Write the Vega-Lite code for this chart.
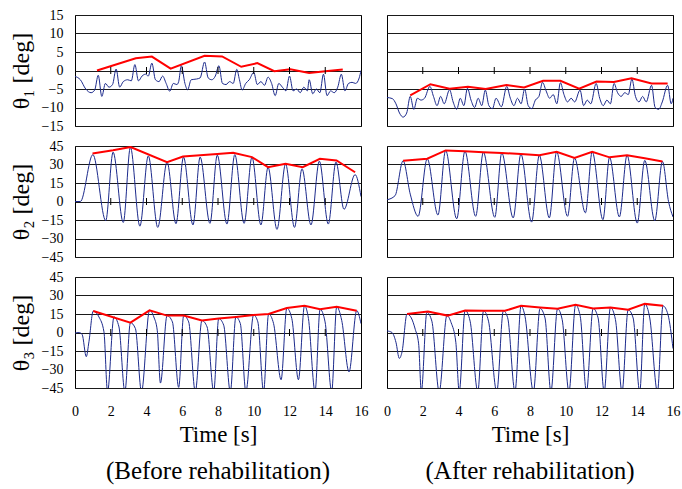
{
  "$schema": "https://vega.github.io/schema/vega-lite/v6.json",
  "padding": {"left": 8, "top": 7, "right": 0, "bottom": 0},
  "background": "white",
  "datasets": {
    "ticks": [{"t": 2}, {"t": 4}, {"t": 6}, {"t": 8}, {"t": 10}, {"t": 12}, {"t": 14}],
    "b1": [
      {"t": 0, "v": -1.6}, {"t": 0.3, "v": -2.5}, {"t": 0.6, "v": -5.0}, {"t": 0.9, "v": -6.0}, {"t": 1.1, "v": -5.3},
      {"t": 1.3, "v": -1.3}, {"t": 1.5, "v": -7.0}, {"t": 1.7, "v": -3.5}, {"t": 1.9, "v": -4.5}, {"t": 2.1, "v": -3.8},
      {"t": 2.3, "v": 0.4}, {"t": 2.5, "v": -4.5}, {"t": 2.7, "v": -3.0}, {"t": 2.95, "v": -2.5}, {"t": 3.15, "v": -2.8},
      {"t": 3.35, "v": 1.6}, {"t": 3.55, "v": -2.8}, {"t": 3.75, "v": -1.5}, {"t": 3.95, "v": -1.0}, {"t": 4.1, "v": -1.5},
      {"t": 4.3, "v": 2.0}, {"t": 4.5, "v": -2.5}, {"t": 4.7, "v": -3.0}, {"t": 4.9, "v": -1.5}, {"t": 5.1, "v": -3.5},
      {"t": 5.3, "v": -5.6}, {"t": 5.5, "v": -3.5}, {"t": 5.7, "v": -3.8}, {"t": 5.8, "v": -3.0}, {"t": 5.95, "v": 1.3},
      {"t": 6.15, "v": -3.5}, {"t": 6.3, "v": -5.2}, {"t": 6.5, "v": -2.5}, {"t": 6.8, "v": -2.3}, {"t": 7.0, "v": -2.0},
      {"t": 7.25, "v": 2.3}, {"t": 7.45, "v": -2.0}, {"t": 7.65, "v": -2.5}, {"t": 7.85, "v": -1.5}, {"t": 8.05, "v": 1.3},
      {"t": 8.25, "v": -3.5}, {"t": 8.45, "v": -3.8}, {"t": 8.65, "v": -3.0}, {"t": 8.85, "v": -3.5}, {"t": 9.05, "v": 0.3},
      {"t": 9.2, "v": -2.5}, {"t": 9.35, "v": -5.3}, {"t": 9.55, "v": -3.5}, {"t": 9.75, "v": -2.5}, {"t": 10.0, "v": -0.5},
      {"t": 10.2, "v": -3.8}, {"t": 10.4, "v": -3.0}, {"t": 10.6, "v": -4.0}, {"t": 10.8, "v": -1.8}, {"t": 11.0, "v": -3.5},
      {"t": 11.2, "v": -6.8}, {"t": 11.4, "v": -3.5}, {"t": 11.6, "v": -4.5}, {"t": 11.8, "v": -5.5}, {"t": 12.0, "v": -1.5},
      {"t": 12.2, "v": -5.5}, {"t": 12.4, "v": -5.0}, {"t": 12.6, "v": -6.0}, {"t": 12.8, "v": -4.5}, {"t": 13.0, "v": -5.5},
      {"t": 13.1, "v": -2.5}, {"t": 13.3, "v": -6.3}, {"t": 13.5, "v": -5.0}, {"t": 13.7, "v": -6.0}, {"t": 13.9, "v": -1.0},
      {"t": 14.1, "v": -6.8}, {"t": 14.3, "v": -5.5}, {"t": 14.5, "v": -6.0}, {"t": 14.7, "v": -4.5}, {"t": 14.9, "v": -1.0},
      {"t": 15.1, "v": -5.5}, {"t": 15.3, "v": -3.5}, {"t": 15.5, "v": -3.2}, {"t": 15.7, "v": -3.5}, {"t": 15.9, "v": -2.0},
      {"t": 16.0, "v": 0.0}
    ],
    "r1": [
      {"t": 1.23, "v": 0}, {"t": 3.4, "v": 3.3}, {"t": 4.3, "v": 3.75}, {"t": 5.35, "v": 0.5}, {"t": 7.25, "v": 4.0},
      {"t": 8.23, "v": 3.8}, {"t": 9.3, "v": 1.0}, {"t": 10.2, "v": 2.0}, {"t": 11.15, "v": -0.2}, {"t": 12.05, "v": 0.35},
      {"t": 13.1, "v": -0.7}, {"t": 14.0, "v": -0.2}, {"t": 14.98, "v": 0.3}
    ],
    "b2": [
      {"t": 0, "v": -7.3}, {"t": 0.3, "v": -7.6}, {"t": 0.5, "v": -9.0}, {"t": 0.7, "v": -11.5}, {"t": 0.9, "v": -12.6},
      {"t": 1.1, "v": -11.5}, {"t": 1.3, "v": -7.0}, {"t": 1.5, "v": -10.5}, {"t": 1.7, "v": -7.5}, {"t": 1.9, "v": -8.0},
      {"t": 2.1, "v": -7.5}, {"t": 2.4, "v": -4.3}, {"t": 2.6, "v": -7.0}, {"t": 2.8, "v": -9.5}, {"t": 3.0, "v": -7.0},
      {"t": 3.2, "v": -9.0}, {"t": 3.5, "v": -5.2}, {"t": 3.7, "v": -8.5}, {"t": 3.9, "v": -10.5}, {"t": 4.1, "v": -7.5},
      {"t": 4.3, "v": -9.5}, {"t": 4.5, "v": -4.8}, {"t": 4.7, "v": -8.0}, {"t": 4.9, "v": -10.0}, {"t": 5.1, "v": -7.5},
      {"t": 5.3, "v": -9.5}, {"t": 5.5, "v": -5.3}, {"t": 5.7, "v": -9.5}, {"t": 5.9, "v": -10.3}, {"t": 6.1, "v": -7.5},
      {"t": 6.4, "v": -9.8}, {"t": 6.7, "v": -4.3}, {"t": 6.9, "v": -7.5}, {"t": 7.1, "v": -9.5}, {"t": 7.3, "v": -7.5},
      {"t": 7.5, "v": -9.0}, {"t": 7.7, "v": -5.0}, {"t": 7.9, "v": -9.5}, {"t": 8.1, "v": -10.3}, {"t": 8.3, "v": -8.0},
      {"t": 8.5, "v": -7.0}, {"t": 8.7, "v": -3.2}, {"t": 8.9, "v": -5.5}, {"t": 9.1, "v": -7.5}, {"t": 9.3, "v": -6.5},
      {"t": 9.5, "v": -9.0}, {"t": 9.7, "v": -3.3}, {"t": 9.9, "v": -6.5}, {"t": 10.1, "v": -8.5}, {"t": 10.3, "v": -7.5},
      {"t": 10.5, "v": -8.5}, {"t": 10.8, "v": -5.3}, {"t": 11.0, "v": -9.5}, {"t": 11.2, "v": -8.0}, {"t": 11.4, "v": -9.0},
      {"t": 11.7, "v": -3.5}, {"t": 11.9, "v": -7.5}, {"t": 12.1, "v": -9.5}, {"t": 12.3, "v": -8.0}, {"t": 12.5, "v": -9.0},
      {"t": 12.7, "v": -3.5}, {"t": 12.9, "v": -6.0}, {"t": 13.1, "v": -7.0}, {"t": 13.3, "v": -6.0}, {"t": 13.5, "v": -6.5},
      {"t": 13.7, "v": -2.3}, {"t": 13.9, "v": -7.0}, {"t": 14.1, "v": -8.5}, {"t": 14.3, "v": -7.0}, {"t": 14.5, "v": -8.5},
      {"t": 14.8, "v": -4.0}, {"t": 15.0, "v": -10.0}, {"t": 15.2, "v": -10.5}, {"t": 15.4, "v": -8.5}, {"t": 15.7, "v": -4.0},
      {"t": 15.9, "v": -9.0}, {"t": 16.0, "v": -7.5}
    ],
    "r2": [
      {"t": 1.3, "v": -6.7}, {"t": 2.43, "v": -3.7}, {"t": 3.5, "v": -4.9}, {"t": 4.53, "v": -4.4}, {"t": 5.52, "v": -5.0},
      {"t": 6.68, "v": -3.9}, {"t": 7.67, "v": -4.6}, {"t": 8.73, "v": -2.8}, {"t": 9.7, "v": -2.8}, {"t": 10.75, "v": -4.9},
      {"t": 11.72, "v": -3.0}, {"t": 12.69, "v": -3.1}, {"t": 13.68, "v": -2.1}, {"t": 14.8, "v": -3.5}, {"t": 15.7, "v": -3.5}
    ],
    "b3": [
      {"t": 0, "v": 0}, {"t": 0.3, "v": 0}, {"t": 1.0, "v": 38}, {"t": 1.72, "v": -15.5}, {"t": 2.13, "v": 40},
      {"t": 2.7, "v": -17}, {"t": 3.1, "v": 44}, {"t": 3.63, "v": -20}, {"t": 4.1, "v": 37}, {"t": 4.63, "v": -21},
      {"t": 5.15, "v": 32}, {"t": 5.65, "v": -18}, {"t": 6.07, "v": 36}, {"t": 6.6, "v": -19}, {"t": 7.0, "v": 36},
      {"t": 7.55, "v": -17.7}, {"t": 7.96, "v": 37.6}, {"t": 8.5, "v": -18.3}, {"t": 8.94, "v": 38}, {"t": 9.46, "v": -17.7},
      {"t": 9.9, "v": 36}, {"t": 10.4, "v": -19}, {"t": 10.8, "v": 27.8}, {"t": 11.3, "v": -22.6}, {"t": 11.78, "v": 30.5},
      {"t": 12.28, "v": -21}, {"t": 12.7, "v": 26.5}, {"t": 13.2, "v": -19}, {"t": 13.67, "v": 32.7}, {"t": 14.17, "v": -18.3},
      {"t": 14.6, "v": 32}, {"t": 15.05, "v": -6.3}, {"t": 15.67, "v": 21.8}, {"t": 16.0, "v": 4}
    ],
    "r3": [
      {"t": 0.98, "v": 39}, {"t": 2.13, "v": 41.5}, {"t": 3.11, "v": 44.2}, {"t": 5.15, "v": 31.9}, {"t": 6.04, "v": 36.5},
      {"t": 7.0, "v": 37.5}, {"t": 7.96, "v": 38.5}, {"t": 8.85, "v": 39.5}, {"t": 9.9, "v": 36}, {"t": 10.8, "v": 27.8},
      {"t": 11.78, "v": 30.5}, {"t": 12.74, "v": 27.8}, {"t": 13.7, "v": 34.6}, {"t": 14.63, "v": 33.3}, {"t": 15.67, "v": 23.7}
    ],
    "b4": [
      {"t": 0, "v": 1.4}, {"t": 0.45, "v": 4.7}, {"t": 0.9, "v": 33}, {"t": 1.3, "v": 6}, {"t": 1.74, "v": -12},
      {"t": 2.25, "v": 34.7}, {"t": 2.85, "v": -11}, {"t": 3.28, "v": 41.4}, {"t": 3.9, "v": -14}, {"t": 4.36, "v": 40.8},
      {"t": 4.96, "v": -12}, {"t": 5.39, "v": 40}, {"t": 6.03, "v": -12.8}, {"t": 6.42, "v": 39.4}, {"t": 7.06, "v": -13.3},
      {"t": 7.49, "v": 38.5}, {"t": 8.09, "v": -16.7}, {"t": 8.52, "v": 37.5}, {"t": 9.08, "v": -13.3}, {"t": 9.49, "v": 40.3},
      {"t": 10.1, "v": -12}, {"t": 10.49, "v": 35.3}, {"t": 11.1, "v": -9.2}, {"t": 11.48, "v": 40.3}, {"t": 12.08, "v": -14.7},
      {"t": 12.45, "v": 35.8}, {"t": 13.0, "v": -12.5}, {"t": 13.43, "v": 37.5}, {"t": 14.0, "v": -17.5}, {"t": 14.42, "v": 33.3},
      {"t": 14.98, "v": -15.6}, {"t": 15.41, "v": 32.5}, {"t": 15.75, "v": 0}, {"t": 16.0, "v": -12.5}
    ],
    "r4": [
      {"t": 0.9, "v": 33}, {"t": 2.25, "v": 34.7}, {"t": 3.28, "v": 41.4}, {"t": 4.36, "v": 40.8}, {"t": 5.39, "v": 40},
      {"t": 6.42, "v": 39.4}, {"t": 7.49, "v": 38.5}, {"t": 8.52, "v": 37.5}, {"t": 9.49, "v": 40.3}, {"t": 10.49, "v": 35.3},
      {"t": 11.48, "v": 40.3}, {"t": 12.45, "v": 35.8}, {"t": 13.43, "v": 37.5}, {"t": 14.42, "v": 35}, {"t": 15.41, "v": 32.5}
    ],
    "b5": [
      {"t": 0, "v": -0.5}, {"t": 0.22, "v": 0}, {"t": 0.4, "v": -1.6}, {"t": 0.63, "v": -19.6}, {"t": 0.78, "v": -7.5},
      {"t": 1.02, "v": 17.4}, {"t": 1.34, "v": 12.6}, {"t": 1.62, "v": 0.5}, {"t": 1.82, "v": -48}, {"t": 2.18, "v": 12.6},
      {"t": 2.46, "v": 4.5}, {"t": 2.79, "v": -48}, {"t": 3.1, "v": 8}, {"t": 3.38, "v": 3.2}, {"t": 3.72, "v": -48},
      {"t": 4.17, "v": 18}, {"t": 4.41, "v": 12.6}, {"t": 4.6, "v": 1.9}, {"t": 4.78, "v": -41}, {"t": 5.15, "v": 13.7},
      {"t": 5.45, "v": 8.6}, {"t": 5.8, "v": -44.5}, {"t": 6.08, "v": 13.7}, {"t": 6.36, "v": 8.6}, {"t": 6.73, "v": -48},
      {"t": 7.1, "v": 9.7}, {"t": 7.39, "v": 4.5}, {"t": 7.76, "v": -48}, {"t": 8.04, "v": 11.3}, {"t": 8.32, "v": 5.9},
      {"t": 8.69, "v": -48}, {"t": 9.0, "v": 12.6}, {"t": 9.25, "v": 7.2}, {"t": 9.56, "v": -48}, {"t": 9.99, "v": 14.2},
      {"t": 10.23, "v": 8.6}, {"t": 10.55, "v": -48}, {"t": 10.83, "v": 15}, {"t": 11.11, "v": 7.2}, {"t": 11.53, "v": -38.3},
      {"t": 11.85, "v": 19.8}, {"t": 12.13, "v": 11.3}, {"t": 12.5, "v": -38.3}, {"t": 12.84, "v": 21.7}, {"t": 13.06, "v": 11.3},
      {"t": 13.43, "v": -48}, {"t": 13.71, "v": 18.8}, {"t": 13.99, "v": 8.6}, {"t": 14.36, "v": -48}, {"t": 14.64, "v": 20.9},
      {"t": 14.92, "v": 9.9}, {"t": 15.33, "v": -32}, {"t": 15.76, "v": 17.7}, {"t": 16.0, "v": 7.2}
    ],
    "r5": [
      {"t": 1.02, "v": 17.4}, {"t": 3.1, "v": 8.0}, {"t": 4.17, "v": 18}, {"t": 5.15, "v": 13.7}, {"t": 6.08, "v": 13.7},
      {"t": 7.1, "v": 9.7}, {"t": 8.04, "v": 11.3}, {"t": 9.0, "v": 12.6}, {"t": 9.99, "v": 14.2}, {"t": 10.83, "v": 15},
      {"t": 11.85, "v": 19.8}, {"t": 12.84, "v": 21.7}, {"t": 13.71, "v": 18.8}, {"t": 14.64, "v": 20.9}, {"t": 15.76, "v": 17.7}
    ],
    "b6": [
      {"t": 0, "v": 1.3}, {"t": 0.28, "v": 0}, {"t": 0.5, "v": -7.9}, {"t": 0.69, "v": -21}, {"t": 0.84, "v": -15.8},
      {"t": 1.12, "v": 15}, {"t": 1.36, "v": 11.8}, {"t": 1.58, "v": 2.6}, {"t": 1.77, "v": -9.2}, {"t": 1.92, "v": -48},
      {"t": 2.23, "v": 16.3}, {"t": 2.51, "v": 9.2}, {"t": 2.92, "v": -48}, {"t": 3.35, "v": 13.7}, {"t": 3.59, "v": 7.9},
      {"t": 3.85, "v": -7.9}, {"t": 4.04, "v": -48}, {"t": 4.37, "v": 17.9}, {"t": 4.65, "v": 9.2}, {"t": 5.08, "v": -48},
      {"t": 5.4, "v": 17.6}, {"t": 5.68, "v": 9.2}, {"t": 6.14, "v": -48}, {"t": 6.51, "v": 17.6}, {"t": 6.75, "v": 12},
      {"t": 7.16, "v": -48}, {"t": 7.5, "v": 21.6}, {"t": 7.72, "v": 13.2}, {"t": 8.19, "v": -48}, {"t": 8.56, "v": 19.5},
      {"t": 8.84, "v": 11.8}, {"t": 9.17, "v": -48}, {"t": 9.54, "v": 19.2}, {"t": 9.8, "v": 10.5}, {"t": 10.18, "v": -48},
      {"t": 10.55, "v": 22.4}, {"t": 10.81, "v": 13.2}, {"t": 11.16, "v": -48}, {"t": 11.53, "v": 19.5}, {"t": 11.81, "v": 11.8},
      {"t": 12.15, "v": -48}, {"t": 12.5, "v": 20.3}, {"t": 12.78, "v": 10.5}, {"t": 13.15, "v": -48}, {"t": 13.49, "v": 18.4},
      {"t": 13.77, "v": 11.8}, {"t": 14.14, "v": -48}, {"t": 14.42, "v": 23.2}, {"t": 14.7, "v": 11.8}, {"t": 15.13, "v": -48},
      {"t": 15.44, "v": 21.6}, {"t": 15.72, "v": 14.5}, {"t": 16.0, "v": -13}
    ],
    "r6": [
      {"t": 1.12, "v": 15}, {"t": 2.29, "v": 17.1}, {"t": 3.39, "v": 13.7}, {"t": 4.37, "v": 17.9}, {"t": 5.4, "v": 17.6},
      {"t": 6.6, "v": 17.6}, {"t": 7.5, "v": 21.6}, {"t": 8.56, "v": 20.3}, {"t": 9.54, "v": 19.2}, {"t": 10.55, "v": 22.4},
      {"t": 11.53, "v": 19.5}, {"t": 12.5, "v": 20.3}, {"t": 13.49, "v": 18.4}, {"t": 14.42, "v": 23.2}, {"t": 15.44, "v": 21.6}
    ]
  },
  "columns": 2,
  "spacing": {"row": 20, "column": 26},
  "bounds": "flush",
  "concat": [
    {
      "width": 286, "height": 111,
      "layer": [
        {"data": {"name": "b1"}, "mark": {"type": "line", "color": "#1c2a8c", "strokeWidth": 1, "interpolate": "monotone", "clip": true},
         "encoding": {
           "x": {"field": "t", "type": "quantitative", "scale": {"domain": [0, 16], "nice": false}, "axis": null},
           "y": {"field": "v", "type": "quantitative", "scale": {"domain": [-15, 15], "nice": false}, "axis": {"tickCount": 6, "grid": true, "labelOverlap": false, "title": "θ₁ [deg]"}}}},
        {"data": {"name": "r1"}, "mark": {"type": "line", "color": "#ff0000", "strokeWidth": 2, "clip": true},
         "encoding": {"x": {"field": "t", "type": "quantitative"}, "y": {"field": "v", "type": "quantitative"}}},
        {"data": {"name": "ticks"}, "mark": {"type": "point", "shape": "M0,-1L0,1", "size": 49, "filled": false, "strokeWidth": 1, "color": "black", "opacity": 1},
         "encoding": {"x": {"field": "t", "type": "quantitative"}, "y": {"datum": 0, "type": "quantitative"}}}
      ]
    },
    {
      "width": 286, "height": 111,
      "layer": [
        {"data": {"name": "b2"}, "mark": {"type": "line", "color": "#1c2a8c", "strokeWidth": 1, "interpolate": "monotone", "clip": true},
         "encoding": {
           "x": {"field": "t", "type": "quantitative", "scale": {"domain": [0, 16], "nice": false}, "axis": null},
           "y": {"field": "v", "type": "quantitative", "scale": {"domain": [-15, 15], "nice": false}, "axis": {"tickCount": 6, "grid": true, "labels": false, "title": null}}}},
        {"data": {"name": "r2"}, "mark": {"type": "line", "color": "#ff0000", "strokeWidth": 2, "clip": true},
         "encoding": {"x": {"field": "t", "type": "quantitative"}, "y": {"field": "v", "type": "quantitative"}}},
        {"data": {"name": "ticks"}, "mark": {"type": "point", "shape": "M0,-1L0,1", "size": 49, "filled": false, "strokeWidth": 1, "color": "black", "opacity": 1},
         "encoding": {"x": {"field": "t", "type": "quantitative"}, "y": {"datum": 0, "type": "quantitative"}}}
      ]
    },
    {
      "width": 286, "height": 111,
      "layer": [
        {"data": {"name": "b3"}, "mark": {"type": "line", "color": "#1c2a8c", "strokeWidth": 1, "interpolate": "monotone", "clip": true},
         "encoding": {
           "x": {"field": "t", "type": "quantitative", "scale": {"domain": [0, 16], "nice": false}, "axis": null},
           "y": {"field": "v", "type": "quantitative", "scale": {"domain": [-45, 45], "nice": false}, "axis": {"tickCount": 18, "grid": true, "labelOverlap": false, "labelExpr": "datum.value % 15 === 0 ? datum.label : ''", "gridOpacity": {"condition": {"test": "datum.value % 15 !== 0", "value": 0}, "value": 1}, "title": "θ₂ [deg]"}}}},
        {"data": {"name": "r3"}, "mark": {"type": "line", "color": "#ff0000", "strokeWidth": 2, "clip": true},
         "encoding": {"x": {"field": "t", "type": "quantitative"}, "y": {"field": "v", "type": "quantitative"}}},
        {"data": {"name": "ticks"}, "mark": {"type": "point", "shape": "M0,-1L0,1", "size": 49, "filled": false, "strokeWidth": 1, "color": "black", "opacity": 1},
         "encoding": {"x": {"field": "t", "type": "quantitative"}, "y": {"datum": 0, "type": "quantitative"}}}
      ]
    },
    {
      "width": 286, "height": 111,
      "layer": [
        {"data": {"name": "b4"}, "mark": {"type": "line", "color": "#1c2a8c", "strokeWidth": 1, "interpolate": "monotone", "clip": true},
         "encoding": {
           "x": {"field": "t", "type": "quantitative", "scale": {"domain": [0, 16], "nice": false}, "axis": null},
           "y": {"field": "v", "type": "quantitative", "scale": {"domain": [-45, 45], "nice": false}, "axis": {"tickCount": 18, "grid": true, "labels": false, "gridOpacity": {"condition": {"test": "datum.value % 15 !== 0", "value": 0}, "value": 1}, "title": null}}}},
        {"data": {"name": "r4"}, "mark": {"type": "line", "color": "#ff0000", "strokeWidth": 2, "clip": true},
         "encoding": {"x": {"field": "t", "type": "quantitative"}, "y": {"field": "v", "type": "quantitative"}}},
        {"data": {"name": "ticks"}, "mark": {"type": "point", "shape": "M0,-1L0,1", "size": 49, "filled": false, "strokeWidth": 1, "color": "black", "opacity": 1},
         "encoding": {"x": {"field": "t", "type": "quantitative"}, "y": {"datum": 0, "type": "quantitative"}}}
      ]
    },
    {
      "width": 286, "height": 111,
      "title": {"text": "(Before rehabilitation)"},
      "layer": [
        {"data": {"name": "b5"}, "mark": {"type": "line", "color": "#1c2a8c", "strokeWidth": 1, "interpolate": "monotone", "clip": true},
         "encoding": {
           "x": {"field": "t", "type": "quantitative", "scale": {"domain": [0, 16], "nice": false}, "axis": {"tickCount": 8, "labelOverlap": false, "title": "Time [s]"}},
           "y": {"field": "v", "type": "quantitative", "scale": {"domain": [-45, 45], "nice": false}, "axis": {"tickCount": 18, "grid": true, "labelOverlap": false, "labelExpr": "datum.value % 15 === 0 ? datum.label : ''", "gridOpacity": {"condition": {"test": "datum.value % 15 !== 0", "value": 0}, "value": 1}, "title": "θ₃ [deg]"}}}},
        {"data": {"name": "r5"}, "mark": {"type": "line", "color": "#ff0000", "strokeWidth": 2, "clip": true},
         "encoding": {"x": {"field": "t", "type": "quantitative"}, "y": {"field": "v", "type": "quantitative"}}},
        {"data": {"name": "ticks"}, "mark": {"type": "point", "shape": "M0,-1L0,1", "size": 49, "filled": false, "strokeWidth": 1, "color": "black", "opacity": 1},
         "encoding": {"x": {"field": "t", "type": "quantitative"}, "y": {"datum": 0, "type": "quantitative"}}}
      ]
    },
    {
      "width": 286, "height": 111,
      "title": {"text": "(After rehabilitation)"},
      "layer": [
        {"data": {"name": "b6"}, "mark": {"type": "line", "color": "#1c2a8c", "strokeWidth": 1, "interpolate": "monotone", "clip": true},
         "encoding": {
           "x": {"field": "t", "type": "quantitative", "scale": {"domain": [0, 16], "nice": false}, "axis": {"tickCount": 8, "labelOverlap": false, "title": "Time [s]"}},
           "y": {"field": "v", "type": "quantitative", "scale": {"domain": [-45, 45], "nice": false}, "axis": {"tickCount": 18, "grid": true, "labels": false, "gridOpacity": {"condition": {"test": "datum.value % 15 !== 0", "value": 0}, "value": 1}, "title": null}}}},
        {"data": {"name": "r6"}, "mark": {"type": "line", "color": "#ff0000", "strokeWidth": 2, "clip": true},
         "encoding": {"x": {"field": "t", "type": "quantitative"}, "y": {"field": "v", "type": "quantitative"}}},
        {"data": {"name": "ticks"}, "mark": {"type": "point", "shape": "M0,-1L0,1", "size": 49, "filled": false, "strokeWidth": 1, "color": "black", "opacity": 1},
         "encoding": {"x": {"field": "t", "type": "quantitative"}, "y": {"datum": 0, "type": "quantitative"}}}
      ]
    }
  ],
  "config": {
    "font": "Liberation Serif",
    "view": {"stroke": "#000000", "strokeWidth": 1},
    "axis": {
      "labelFont": "Liberation Serif", "titleFont": "Liberation Serif",
      "labelColor": "#000000", "titleColor": "#000000",
      "labelFontSize": 14, "titleFontWeight": "normal",
      "ticks": false, "domain": false,
      "gridColor": "#1a1a1a", "gridOpacity": 1, "gridWidth": 1
    },
    "axisY": {"labelPadding": 12, "titlePadding": 8, "titleFontSize": 24},
    "axisX": {"labelPadding": 16, "titlePadding": 5, "titleFontSize": 23, "grid": false, "labelFlush": false},
    "title": {"font": "Liberation Serif", "fontSize": 25, "fontWeight": "normal", "color": "#000000", "orient": "bottom", "offset": 13}
  }
}
